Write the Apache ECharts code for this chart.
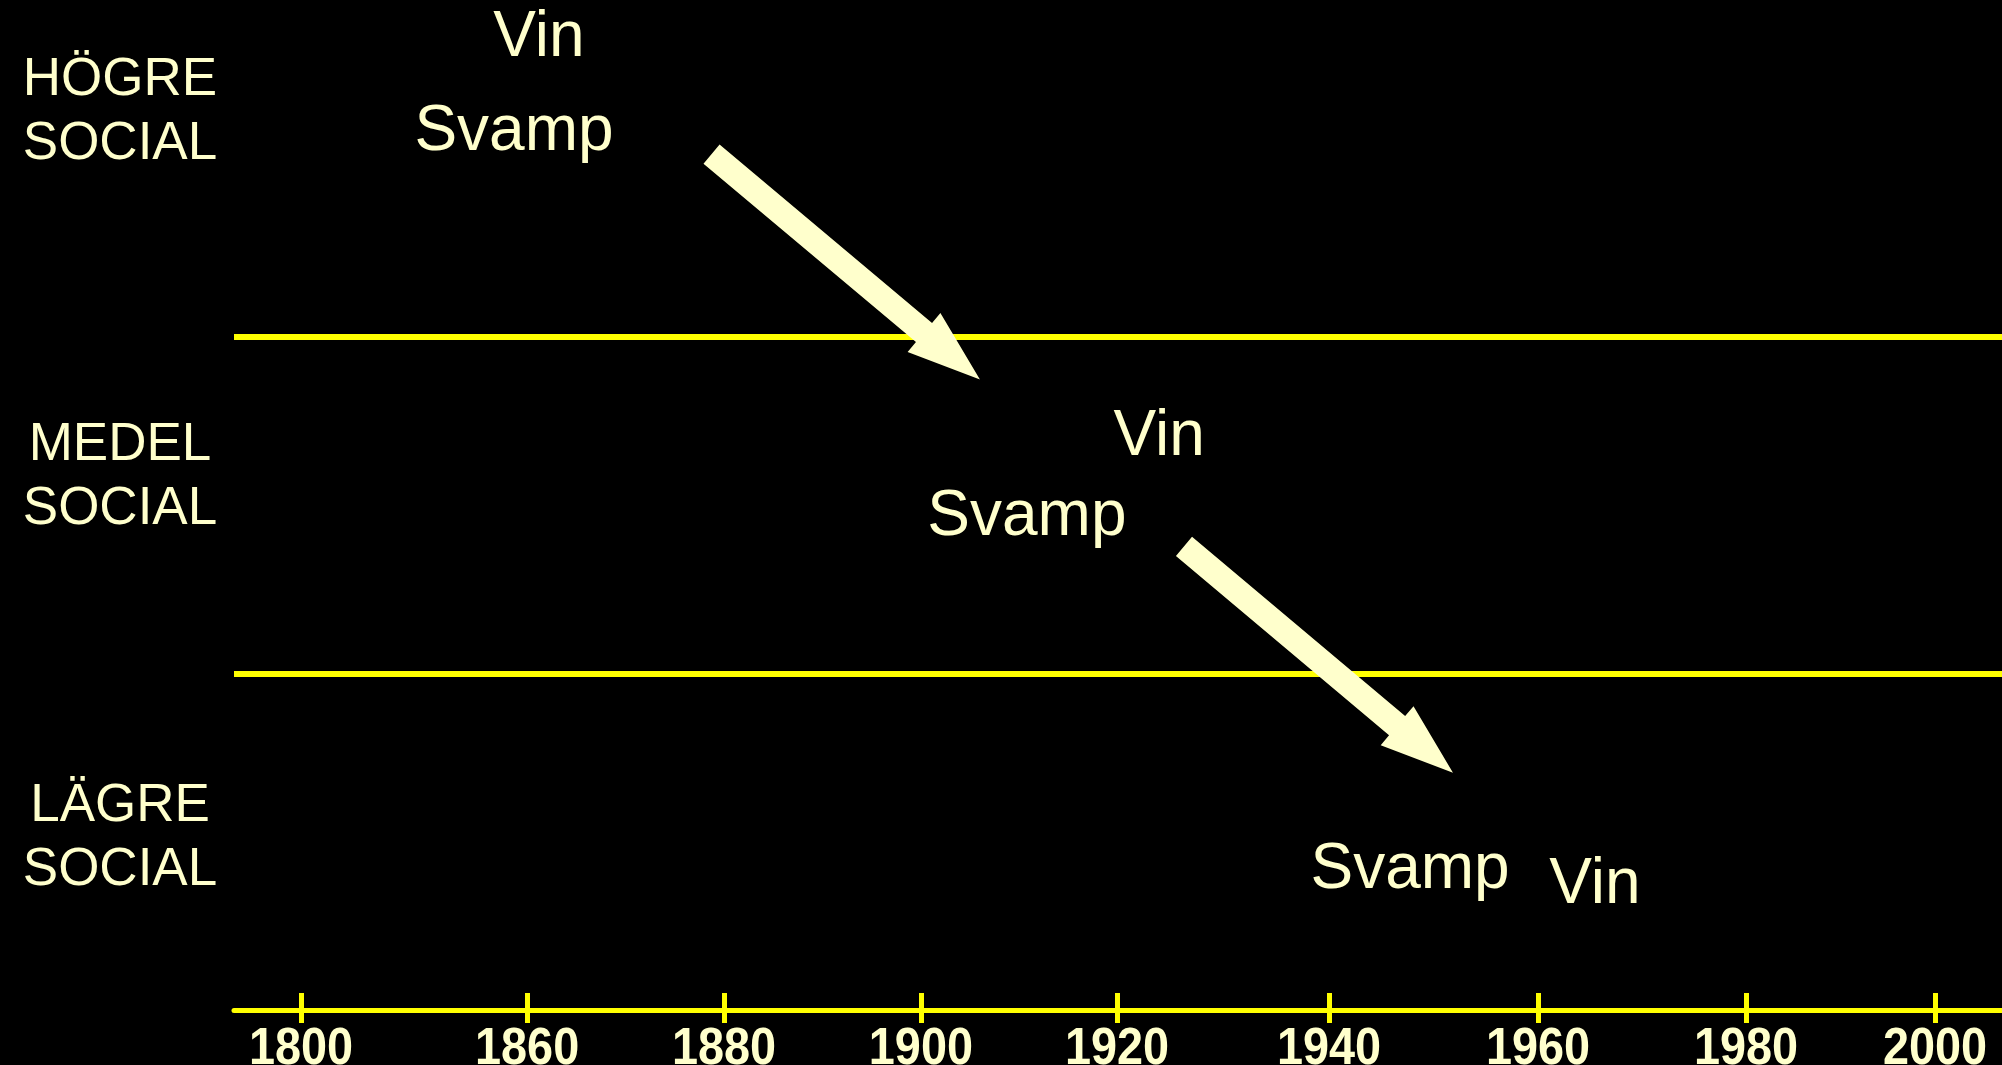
<!DOCTYPE html>
<html>
<head>
<meta charset="utf-8">
<script src="https://cdn.jsdelivr.net/npm/echarts@6/dist/echarts.min.js"></script>
<style>
  html, body { margin: 0; background: #000; }
  #chart { width: 2002px; height: 1065px; }
</style>
</head>
<body>
<div id="chart"></div>
<script>
// x is in tick slots (1800 = 0 ... 2000 = 8), y in social levels (0 = bottom, 3 = top)
var yearLabels = ['1800', '1860', '1880', '1900', '1920', '1940', '1960', '1980', '2000']
var yearSlots = [0, 1.107, 2.071, 3.035, 3.995, 5.033, 6.056, 7.075, 8]
var levelLabels = ['LÄGRE\nSOCIAL', 'MEDEL\nSOCIAL', 'HÖGRE\nSOCIAL']
var levelPos = [0.511, 1.581, 2.667]
var levelBounds = [1, 2]
var words = ['Vin', 'Svamp', 'Vin', 'Svamp', 'Svamp', 'Vin']
var wordX = [1.165, 1.043, 4.201, 3.554, 5.430, 6.335]
var wordY = [2.885, 2.607, 1.701, 1.464, 0.415, 0.371]
var arrowFrom = [[2.010, 2.542], [4.323, 1.377]]
var arrowTo = [[3.324, 1.873], [5.640, 0.705]]

var cream = '#FFFFCC'
var yellow = '#FFFF00'

var chart = echarts.init(document.getElementById('chart'))

var wordData = []
for (var i = 0; i < words.length; i++) {
  wordData.push({ name: words[i], value: [wordX[i], wordY[i]] })
}
var arrowData = []
for (var j = 0; j < arrowFrom.length; j++) {
  arrowData.push([arrowFrom[j][0], arrowFrom[j][1], arrowTo[j][0], arrowTo[j][1]])
}
var yearData = yearSlots.map(function(s, k) { return [s, 0, k] })

var option = {
  backgroundColor: '#000',
  animation: false,
  grid: { left: 234, right: 0, top: 0, bottom: 55, outerBoundsMode: 'none' },
  xAxis: [{
    type: 'value',
    min: -0.328,
    max: 8.328,
    position: 'bottom',
    splitLine: { show: false },
    axisLine: { show: true, lineStyle: { color: yellow, width: 5 } },
    axisTick: {
      show: true,
      inside: false,
      length: 13,
      customValues: yearSlots,
      lineStyle: { color: yellow, width: 5 }
    },
    axisLabel: { show: false }
  }, {
    // second axis only for the part of the ticks above the line
    type: 'value',
    min: -0.328,
    max: 8.328,
    position: 'bottom',
    splitLine: { show: false },
    axisLine: { show: false },
    axisLabel: { show: false },
    axisTick: {
      show: true,
      inside: true,
      length: 17,
      customValues: yearSlots,
      lineStyle: { color: yellow, width: 5 }
    }
  }],
  yAxis: {
    type: 'value',
    min: 0,
    max: 3,
    axisLine: { show: false },
    axisTick: { show: false },
    splitLine: { show: false },
    axisLabel: {
      show: true,
      customValues: levelPos,
      align: 'center',
      margin: 114,
      color: cream,
      fontSize: 53,
      lineHeight: 64,
      fontFamily: '"Liberation Sans", Arial, sans-serif',
      formatter: function(v) {
        var k = levelPos.indexOf(v)
        return k >= 0 ? levelLabels[k] : ''
      }
    }
  },
  series: [{
    type: 'scatter',
    symbolSize: 0,
    z: 2,
    data: wordData,
    itemStyle: { opacity: 1 },
    label: {
      show: true,
      position: 'inside',
      formatter: '{b}',
      color: cream,
      opacity: 1,
      fontSize: 64,
      fontFamily: '"Liberation Sans", Arial, sans-serif'
    },
    markLine: {
      silent: true,
      symbol: 'none',
      label: { show: false },
      lineStyle: { color: yellow, width: 6, type: 'solid', opacity: 1 },
      data: levelBounds.map(function(v) { return { yAxis: v } })
    }
  }, {
    // year labels, narrowed like the original condensed face
    type: 'custom',
    z: 4,
    clip: false,
    silent: true,
    data: yearData,
    renderItem: function(params, api) {
      var p = api.coord([api.value(0), 0])
      return {
        type: 'text',
        x: p[0],
        y: p[1] + 14,
        scaleX: 0.9,
        style: {
          text: yearLabels[api.value(2)],
          fill: cream,
          fontSize: 52,
          fontWeight: 'bold',
          fontFamily: '"Liberation Sans", Arial, sans-serif',
          align: 'center',
          verticalAlign: 'top'
        }
      }
    }
  }, {
    type: 'custom',
    z: 5,
    clip: false,
    silent: true,
    data: arrowData,
    renderItem: function(params, api) {
      var a = api.coord([api.value(0), api.value(1)])
      var b = api.coord([api.value(2), api.value(3)])
      var dx = b[0] - a[0]
      var dy = b[1] - a[1]
      var len = Math.sqrt(dx * dx + dy * dy)
      var ux = dx / len
      var uy = dy / len
      var nx = -uy
      var ny = ux
      var hw = 12.5 // half shaft width
      var hh = 25.5 // half head width
      var hl = 73 // head length
      var bx = b[0] - ux * hl
      var by = b[1] - uy * hl
      return {
        type: 'polygon',
        shape: {
          points: [
            [a[0] + nx * hw, a[1] + ny * hw],
            [bx + nx * hw, by + ny * hw],
            [bx + nx * hh, by + ny * hh],
            b,
            [bx - nx * hh, by - ny * hh],
            [bx - nx * hw, by - ny * hw],
            [a[0] - nx * hw, a[1] - ny * hw]
          ]
        },
        style: { fill: cream }
      }
    }
  }]
}

chart.setOption(option)
</script>
</body>
</html>
